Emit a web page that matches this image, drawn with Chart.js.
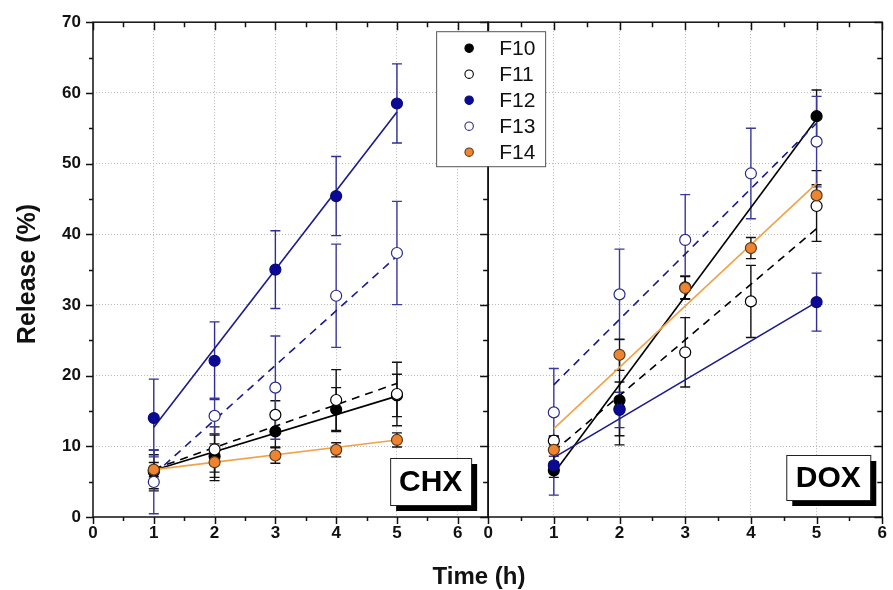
<!DOCTYPE html>
<html>
<head>
<meta charset="utf-8">
<title>Release</title>
<script src="https://cdn.jsdelivr.net/npm/chart.js@4.4.1/dist/chart.umd.min.js"></script>
<style>
  body { margin: 0; background: #fff; }
  canvas { display: block; }
</style>
</head>
<body>
<canvas id="myChart" width="893" height="590"></canvas>
<script>
// setup
const times = [1, 2, 3, 4, 5];
const fitTimes = [1, 5];
const names = ["F10", "F11", "F12", "F13", "F14"];

// CHX panel (left)
const chxF10 = [6.4, 8.6, 12.1, 15.2, 17.2];
const chxF11 = [6.6, 9.55, 14.45, 16.55, 17.4];
const chxF12 = [14.0, 22.1, 35.0, 45.4, 58.5];
const chxF13 = [4.95, 14.3, 18.3, 31.3, 37.35];
const chxF14 = [6.7, 7.75, 8.7, 9.5, 10.9];

const chxF10Err = [2.4, 3.0, 2.2, 3.1, 3.0];
const chxF11Err = [2.9, 3.2, 2.0, 4.3, 4.5];
const chxF12Err = [5.5, 5.5, 5.5, 5.6, 5.6];
const chxF13Err = [4.5, 2.5, 7.3, 7.3, 7.3];
const chxF14Err = [1.0, 2.6, 1.1, 1.0, 1.0];

// fitted lines, value at t = 1 and t = 5
const chxF10Fit = [6.6, 17.1];
const chxF11Fit = [6.8, 18.9];
const chxF12Fit = [12.7, 57.3];
const chxF13Fit = [6.0, 36.9];
const chxF14Fit = [6.7, 10.9];

// DOX panel (right)
const doxF10 = [6.6, 16.5, 32.5, null, 56.7];
const doxF11 = [10.8, 15.3, 23.3, 30.5, 44.0];
const doxF12 = [7.3, 15.15, null, null, 30.4];
const doxF13 = [14.8, 31.5, 39.2, 48.6, 53.1];
const doxF14 = [9.5, 22.95, 32.4, 38.05, 45.5];

const doxF10Err = [1.0, 6.3, 1.6, null, 3.7];
const doxF11Err = [0.6, 3.8, 4.9, 5.1, 5.0];
const doxF12Err = [4.2, 2.5, null, null, 4.1];
const doxF13Err = [6.2, 6.4, 6.4, 6.4, 6.4];
const doxF14Err = [1.7, 2.2, 1.6, 1.5, 1.5];

const doxF10Fit = [6.2, 56.3];
const doxF11Fit = [9.3, 40.8];
const doxF12Fit = [8.4, 30.4];
const doxF13Fit = [18.7, 55.7];
const doxF14Fit = [12.5, 47.2];

// styles per formulation
const styles = [
  { fill: "#000000", edge: "#000000", line: "#000000", bar: "#111111", dash: [] },
  { fill: "#ffffff", edge: "#000000", line: "#000000", bar: "#111111", dash: [8, 6] },
  { fill: "#0a0a96", edge: "#0a0a7a", line: "#1a1a8c", bar: "#2e2e96", dash: [] },
  { fill: "#ffffff", edge: "#2a2a8c", line: "#1a1a8c", bar: "#3a3a9e", dash: [8, 6] },
  { fill: "#ee8430", edge: "#5a3a1a", line: "#f0a248", bar: "#111111", dash: [] },
];

const panels = [
  { axis: "x", vals: [chxF10, chxF11, chxF12, chxF13, chxF14], errs: [chxF10Err, chxF11Err, chxF12Err, chxF13Err, chxF14Err], fits: [chxF10Fit, chxF11Fit, chxF12Fit, chxF13Fit, chxF14Fit] },
  { axis: "x2", vals: [doxF10, doxF11, doxF12, doxF13, doxF14], errs: [doxF10Err, doxF11Err, doxF12Err, doxF13Err, doxF14Err], fits: [doxF10Fit, doxF11Fit, doxF12Fit, doxF13Fit, doxF14Fit] },
];

const datasets = [];
panels.forEach((p, pi) => {
  names.forEach((name, i) => {
    const s = styles[i];
    datasets.push({
      label: name,
      xAxisID: p.axis,
      data: times.map((t, k) => ({ x: t, y: p.vals[i][k] })),
      errors: p.errs[i],
      barColor: s.bar,
      inLegend: pi === 0,
      showLine: false,
      pointRadius: 5.5,
      pointBackgroundColor: s.fill,
      pointBorderColor: s.edge,
      pointBorderWidth: 1.2,
      order: 5 - i,
    });
    datasets.push({
      label: name + " fit",
      xAxisID: p.axis,
      data: fitTimes.map((t, k) => ({ x: t, y: p.fits[i][k] })),
      showLine: true,
      pointRadius: 0,
      borderColor: s.line,
      borderWidth: 1.6,
      borderDash: s.dash,
      order: 20 - i,
    });
  });
});

const tickFont = { family: "'Liberation Sans', Arial, sans-serif", size: 17, weight: "bold" };
const gridGray = "#b8b8b8";

// error bars, frames, ticks, legend and labels
const decorations = {
  id: "decorations",
  beforeDatasetsDraw(chart) {
    const ctx = chart.ctx;
    const y = chart.scales.y;
    chart.data.datasets.forEach((ds) => {
      if (!ds.errors) return;
      const xs = chart.scales[ds.xAxisID];
      ctx.save();
      ctx.strokeStyle = ds.barColor;
      ctx.lineWidth = 1.4;
      ds.data.forEach((pt, k) => {
        const e = ds.errors[k];
        if (pt.y == null || e == null) return;
        const px = xs.getPixelForValue(pt.x);
        const top = y.getPixelForValue(pt.y + e);
        const bot = y.getPixelForValue(pt.y - e);
        ctx.beginPath();
        ctx.moveTo(px, top); ctx.lineTo(px, bot);
        ctx.moveTo(px - 5, top); ctx.lineTo(px + 5, top);
        ctx.moveTo(px - 5, bot); ctx.lineTo(px + 5, bot);
        ctx.stroke();
      });
      ctx.restore();
    });
  },
  afterDatasetsDraw(chart) {
    const ctx = chart.ctx;
    const y = chart.scales.y;
    const area = chart.chartArea;
    ctx.save();
    ctx.strokeStyle = "#111";
    ctx.lineWidth = 1.5;
    ctx.beginPath();
    ["x", "x2"].forEach((id) => {
      const xs = chart.scales[id];
      for (let v = xs.min; v <= xs.max + 1e-6; v += 0.5) {
        const px = Math.round(xs.getPixelForValue(v)) + 0.5;
        const major = Number.isInteger(v);
        ctx.moveTo(px, area.bottom); ctx.lineTo(px, area.bottom + (major ? 7 : 4));
        ctx.moveTo(px, area.top); ctx.lineTo(px, area.top + (major ? 8 : 5));
      }
      for (let v = y.min; v <= y.max; v += 5) {
        const py = Math.round(y.getPixelForValue(v)) + 0.5;
        const major = v % 10 === 0;
        ctx.moveTo(xs.right, py); ctx.lineTo(xs.right - (major ? 8 : 5), py);
      }
    });
    for (let v = y.min; v <= y.max; v += 5) {
      const py = Math.round(y.getPixelForValue(v)) + 0.5;
      const major = v % 10 === 0;
      ctx.moveTo(area.left, py); ctx.lineTo(area.left - (major ? 7 : 4), py);
    }
    ctx.stroke();
    ["x", "x2"].forEach((id) => {
      const xs = chart.scales[id];
      ctx.strokeRect(xs.left, area.top, xs.right - xs.left, area.bottom - area.top);
    });

    // panel tags
    const tag = (text, right, bottom, w, h) => {
      ctx.fillStyle = "#000";
      ctx.fillRect(right - w + 6, bottom - h + 6, w, h);
      ctx.fillStyle = "#fff";
      ctx.fillRect(right - w, bottom - h, w, h);
      ctx.lineWidth = 1;
      ctx.strokeStyle = "#222";
      ctx.strokeRect(right - w + 0.5, bottom - h + 0.5, w, h);
      ctx.fillStyle = "#000";
      ctx.font = "bold 30px 'Liberation Sans', Arial, sans-serif";
      ctx.textAlign = "center";
      ctx.textBaseline = "middle";
      ctx.fillText(text, right - w / 2, bottom - h / 2 + 1);
    };
    tag("CHX", chart.scales.x.right - 17, area.bottom - 12, 81, 47);
    tag("DOX", chart.scales.x2.right - 12, area.bottom - 17, 84, 45);

    // legend
    const lx = chart.scales.x.right - 52, ly = area.top + 9;
    ctx.fillStyle = "#fff";
    ctx.fillRect(lx, ly, 109, 135);
    ctx.strokeStyle = "#555";
    ctx.lineWidth = 1;
    ctx.strokeRect(lx + 0.5, ly + 0.5, 109, 135);
    chart.data.datasets.filter((d) => d.inLegend).forEach((d, i) => {
      const cy = ly + 17 + i * 26;
      ctx.beginPath();
      ctx.arc(lx + 33, cy, 4.2, 0, Math.PI * 2);
      ctx.fillStyle = d.pointBackgroundColor;
      ctx.fill();
      ctx.strokeStyle = d.pointBorderColor;
      ctx.lineWidth = 1.1;
      ctx.stroke();
      ctx.fillStyle = "#111";
      ctx.font = "21px 'Liberation Sans', Arial, sans-serif";
      ctx.textAlign = "left";
      ctx.textBaseline = "middle";
      ctx.fillText(d.label, lx + 63, cy + 1);
    });

    // axis titles
    ctx.fillStyle = "#111";
    ctx.textAlign = "center";
    ctx.textBaseline = "middle";
    ctx.font = "bold 24px 'Liberation Sans', Arial, sans-serif";
    ctx.fillText("Time (h)", 479, 577);
    ctx.font = "bold 25px 'Liberation Sans', Arial, sans-serif";
    ctx.translate(28, 274);
    ctx.rotate(-Math.PI / 2);
    ctx.fillText("Release (%)", 0, 0);
    ctx.restore();
  },
};

const xAxis = (max, weight) => ({
  type: "linear",
  position: "bottom",
  stack: "time",
  stackWeight: weight,
  min: 0,
  max: max,
  afterFit: (scale) => { scale.height = 73; },
  ticks: {
    stepSize: 0.5,
    autoSkip: false,
    maxRotation: 0,
    padding: 6,
    color: "#111",
    font: tickFont,
    callback: (v) => (Number.isInteger(v) ? v : ""),
  },
  grid: {
    drawTicks: false,
    color: (c) => (c.tick && Number.isInteger(c.tick.value) && c.tick.value > 0 && c.tick.value < max ? gridGray : "transparent"),
  },
  border: { display: false, dash: [1, 2] },
});

// config
const config = {
  type: "scatter",
  data: { datasets },
  options: {
    responsive: false,
    animation: false,
    layout: { padding: { top: 18, right: 7, left: 0, bottom: 0 } },
    plugins: { legend: { display: false }, tooltip: { enabled: false } },
    scales: {
      x: xAxis(6.5, 397),
      x2: xAxis(6, 396),
      y: {
        min: 0,
        max: 70,
        afterFit: (scale) => { scale.width = 93; },
        ticks: { stepSize: 10, padding: 12, color: "#111", font: tickFont },
        grid: {
          drawTicks: false,
          color: (c) => (c.tick && c.tick.value > 0 && c.tick.value < 70 ? gridGray : "transparent"),
        },
        border: { display: false, dash: [1, 2] },
      },
    },
  },
  plugins: [decorations],
};

// render init block
const myChart = new Chart(document.getElementById("myChart"), config);
</script>
</body>
</html>
